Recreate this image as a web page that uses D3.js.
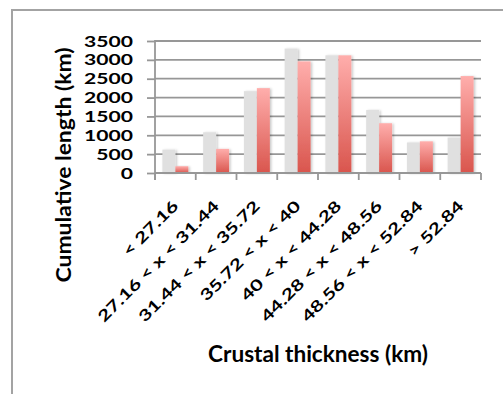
<!DOCTYPE html>
<html>
<head>
<meta charset="utf-8">
<script src="https://cdn.jsdelivr.net/npm/d3@7"></script>
<style>
  html, body { margin: 0; padding: 0; background: #fff; }
  svg { display: block; }
  text { font-family: Lato, "Open Sans", sans-serif; font-weight: 700; fill: #000; }
</style>
</head>
<body>
<svg id="chart" width="503" height="394"></svg>
<script>
// Crustal thickness bins and cumulative length per bin (km)
const categories = ["< 27.16", "27.16 < x < 31.44", "31.44 < x < 35.72", "35.72 < x < 40",
                    "40 < x < 44.28", "44.28 < x < 48.56", "48.56 < x < 52.84", "> 52.84"];
const seriesNames = ["Series A", "Series B"];
const seriesA = [620, 1080, 2170, 3300, 3120, 1670, 810, 940];
const seriesB = [180, 640, 2250, 2960, 3120, 1320, 840, 2570];
const yTicks = [0, 500, 1000, 1500, 2000, 2500, 3000, 3500];
const xTitle = "Crustal thickness (km)";
const yTitle = "Cumulative length (km)";

const svg = d3.select("#chart");
const plot = { left: 155, right: 481, top: 41, bottom: 173 };
const axisColor = "#979797";

// chart frame (only its top and left edges fall inside the view)
svg.append("rect")
  .attr("x", 12).attr("y", 10).attr("width", 520).attr("height", 420)
  .attr("fill", "none").attr("stroke", "#a3a3a3").attr("stroke-width", 2);

const defs = svg.append("defs");
const grad = defs.append("linearGradient").attr("id", "redGrad")
  .attr("x1", 0).attr("y1", 0).attr("x2", 0).attr("y2", 1);
grad.append("stop").attr("offset", "0%").attr("stop-color", "#ffaeac");
grad.append("stop").attr("offset", "100%").attr("stop-color", "#d9554d");
const shadow = defs.append("filter").attr("id", "shadow")
  .attr("x", "-30%").attr("y", "-10%").attr("width", "160%").attr("height", "120%");
shadow.append("feDropShadow").attr("dx", 1.5).attr("dy", 0.5)
  .attr("stdDeviation", 1.2).attr("flood-color", "#000").attr("flood-opacity", 0.22);

const y = d3.scaleLinear().domain([0, 3500]).range([plot.bottom, plot.top]);
const x0 = d3.scaleBand().domain(categories).range([plot.left, plot.right]).padding(0);
const x1 = d3.scaleBand().domain(seriesNames).range([0, x0.bandwidth()])
  .paddingInner(0).paddingOuter(0.57);

// horizontal gridlines
svg.append("g").selectAll("line").data(yTicks.filter(d => d > 0)).join("line")
  .attr("x1", plot.left).attr("x2", plot.right)
  .attr("y1", d => y(d)).attr("y2", d => y(d))
  .attr("stroke", axisColor).attr("stroke-width", 1.8);

// bars
const rows = categories.map((c, i) => ({ c, vals: [seriesA[i], seriesB[i]] }));
const groups = svg.append("g").selectAll("g").data(rows).join("g")
  .attr("transform", d => `translate(${x0(d.c)},0)`);
groups.selectAll("rect")
  .data(d => d.vals.map((v, j) => ({ s: seriesNames[j], v })))
  .join("rect")
  .attr("x", d => x1(d.s))
  .attr("width", x1.bandwidth())
  .attr("y", d => y(d.v))
  .attr("height", d => y(0) - y(d.v))
  .attr("fill", d => d.s === seriesNames[0] ? "#e0e0e0" : "url(#redGrad)")
  .attr("filter", "url(#shadow)");

// y axis: line and ticks from d3, labels drawn separately so they can be widened
const yAxis = svg.append("g").attr("transform", `translate(${plot.left},0)`)
  .call(d3.axisLeft(y).tickValues(yTicks).tickSize(8).tickFormat(""));
yAxis.select(".domain").attr("stroke", axisColor).attr("stroke-width", 1.8)
  .attr("d", `M0,${plot.top - 1}V${plot.bottom + 7}`);
yAxis.selectAll(".tick line").attr("stroke", axisColor).attr("stroke-width", 1.8);

const fs = 15.5;
const yLabels = svg.append("g").selectAll("text").data(yTicks).join("text")
  .attr("font-size", fs).attr("text-anchor", "end").attr("dy", "0.36em")
  .text(d => d3.format("d")(d));

// x axis
const xAxis = svg.append("g").attr("transform", `translate(0,${plot.bottom})`)
  .call(d3.axisBottom(x0).tickSize(0).tickFormat(""));
xAxis.select(".domain").attr("stroke", axisColor).attr("stroke-width", 1.8)
  .attr("d", `M${plot.left},0H${plot.right}`);
const tickPos = d3.range(categories.length + 1).map(i => plot.left + i * x0.step());
xAxis.append("g").selectAll("line").data(tickPos).join("line")
  .attr("x1", d => d).attr("x2", d => d).attr("y1", 0).attr("y2", 7)
  .attr("stroke", axisColor).attr("stroke-width", 1.8);

const xLabels = svg.append("g").selectAll("text").data(categories).join("text")
  .attr("font-size", fs).attr("text-anchor", "end")
  .text(d => d);

// widen the tick text: "3500" spans 49px
const k = 49 / yLabels.filter(d => d === 3500).node().getComputedTextLength();
yLabels.attr("transform", d => `translate(133,${y(d)}) scale(${k},1)`);
xLabels.attr("transform", d =>
  `translate(${x0(d) + x0.bandwidth() / 2 + 4},207) rotate(-45) scale(${k},1)`);

// axis titles
const xt = svg.append("text").attr("text-anchor", "middle").attr("font-size", 22).text(xTitle);
const kx = 220 / xt.node().getComputedTextLength();
xt.attr("transform", `translate(318,362) scale(${kx},1)`);

const yt = svg.append("text").attr("text-anchor", "middle").attr("font-size", 20).text(yTitle);
const ky = 235 / yt.node().getComputedTextLength();
yt.attr("transform", `translate(71,165) rotate(-90) scale(${ky},1)`);
</script>
</body>
</html>
